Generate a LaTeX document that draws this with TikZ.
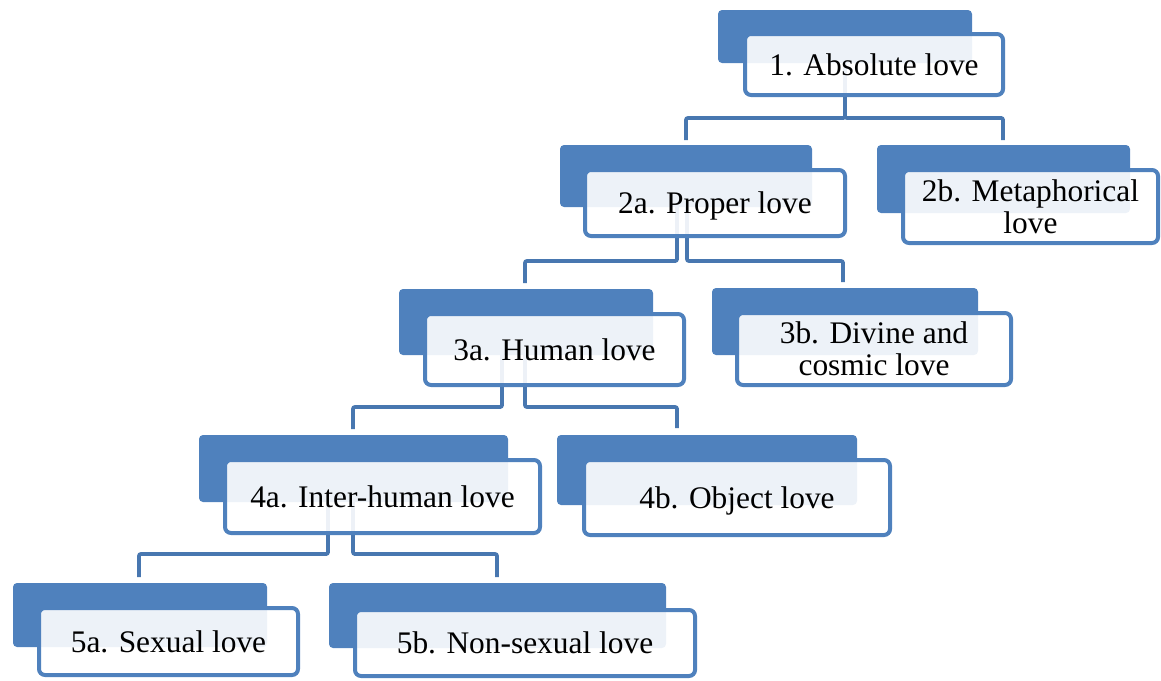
\documentclass[tikz,border=0pt]{standalone}
\usepackage{fontspec}
\setmainfont{Liberation Serif}
\usetikzlibrary{calc}
\definecolor{boxblue}{HTML}{4F81BD}
\definecolor{connblue}{HTML}{4877B0}
\tikzset{
  backbox/.style={fill=boxblue, draw=none, rounded corners=4pt, inner sep=0pt, outer sep=0pt},
  frontbox/.style={draw=boxblue, line width=4pt, fill=white, fill opacity=0.9, text opacity=1, draw opacity=1,
    rounded corners=6pt, inner sep=0pt, outer sep=0pt, align=center,
    font=\fontsize{31.4}{32}\selectfont},
  oneline/.style={text height=21.5pt, text depth=0pt},
  conn/.style={draw=connblue, line width=3.8pt, rounded corners=2pt}
}
\begin{document}
\begin{tikzpicture}[x=1pt,y=-1pt]
\useasboundingbox (0,0) rectangle (1161,680);
% back boxes
\node[backbox, minimum width=254pt, minimum height=53pt] (b1) at (845,36.5) {};
\node[backbox, minimum width=252pt, minimum height=62pt] (b2a) at (686,176) {};
\node[backbox, minimum width=253pt, minimum height=68pt] (b2b) at (1003.5,179) {};
\node[backbox, minimum width=254pt, minimum height=66pt] (b3a) at (526,322) {};
\node[backbox, minimum width=266pt, minimum height=67pt] (b3b) at (845,321.5) {};
\node[backbox, minimum width=309pt, minimum height=67pt] (b4a) at (353.5,468.5) {};
\node[backbox, minimum width=300pt, minimum height=70pt] (b4b) at (707,470) {};
\node[backbox, minimum width=254pt, minimum height=64pt] (b5a) at (140,615) {};
\node[backbox, minimum width=337pt, minimum height=65pt] (b5b) at (497.5,615.5) {};
% connectors
\draw[conn] (b1.south) -- ++(0,55) -| ([yshift=5pt]b2a.north);
\draw[conn] (b1.south) -- ++(0,55) -| ([xshift=-0.5pt,yshift=5pt]b2b.north);
\draw[conn] ([xshift=-9pt]b2a.south) -- ++(0,54) -| ([xshift=-1pt,yshift=6pt]b3a.north);
\draw[conn] ([xshift=1pt]b2a.south) -- ++(0,54) -| ([xshift=-2pt,yshift=6pt]b3b.north);
\draw[conn] ([xshift=-24pt]b3a.south) -- ++(0,52) -| ([xshift=-0.5pt,yshift=6pt]b4a.north);
\draw[conn] ([xshift=-1pt]b3a.south) -- ++(0,52) -| ([xshift=-30pt,yshift=7pt]b4b.north);
\draw[conn] ([xshift=-25.5pt]b4a.south) -- ++(0,52) -| ([xshift=-1pt,yshift=6pt]b5a.north);
\draw[conn] ([xshift=-0.5pt]b4a.south) -- ++(0,52) -| ([xshift=-0.5pt,yshift=6pt]b5b.north);
% front boxes
\node[frontbox, oneline, minimum width=258pt, minimum height=61pt] (f1) at (874,64.5) {1. Absolute love};
\node[frontbox, oneline, minimum width=260pt, minimum height=66pt] (f2a) at (715,203) {2a. Proper love};
\node[frontbox, minimum width=255pt, minimum height=73pt] (f2b) at (1030.5,206.5) {2b. Metaphorical\\love};
\node[frontbox, oneline, minimum width=259pt, minimum height=71pt] (f3a) at (554.5,349.5) {3a. Human love};
\node[frontbox, minimum width=274pt, minimum height=72pt] (f3b) at (874,349) {3b. Divine and\\cosmic love};
\node[frontbox, oneline, minimum width=315pt, minimum height=73pt] (f4a) at (382.5,496.5) {4a. Inter-human love};
\node[frontbox, oneline, minimum width=306pt, minimum height=75pt] (f4b) at (737,497.5) {4b. Object love};
\node[frontbox, oneline, minimum width=259pt, minimum height=67pt] (f5a) at (168.5,641.5) {5a. Sexual love};
\node[frontbox, oneline, minimum width=340pt, minimum height=66pt] (f5b) at (525,643) {5b. Non-sexual love};
\end{tikzpicture}
\end{document}
